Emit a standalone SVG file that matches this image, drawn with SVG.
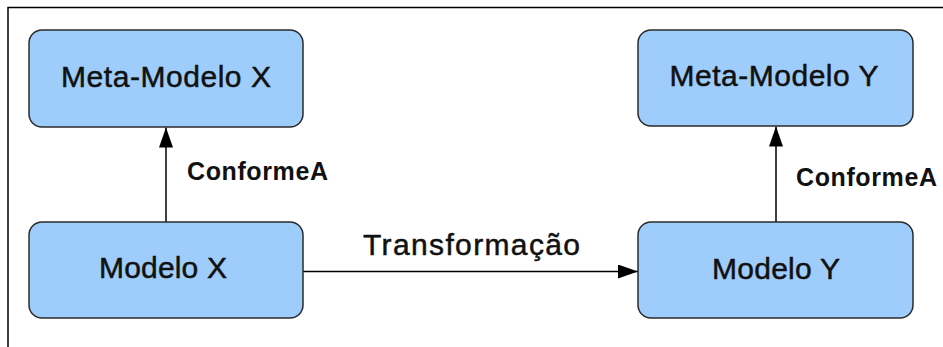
<svg xmlns="http://www.w3.org/2000/svg" width="943" height="347" viewBox="0 0 943 347">
  <style>
    .node rect { fill: #9fcdfb; stroke: #2b2b2b; stroke-width: 1.5; }
    .node text { font-family: "Liberation Sans", Arial, sans-serif; font-size: 30px; fill: #111; stroke: #111; stroke-width: 0.5; text-anchor: middle; }
    .edge { stroke: #000; stroke-width: 1.5; fill: none; }
    .elabel { font-family: "Liberation Sans", Arial, sans-serif; font-weight: bold; font-size: 25px; fill: #111; }
    .tlabel { font-family: "Liberation Sans", Arial, sans-serif; font-size: 30px; fill: #111; stroke: #111; stroke-width: 0.5; }
  </style>
  <defs>
    <marker id="arrow" viewBox="0 0 20 14" refX="20" refY="7" markerWidth="20" markerHeight="14" markerUnits="userSpaceOnUse" orient="auto">
      <path d="M0,0 L20,7 L0,14 Z" fill="#000"/>
    </marker>
  </defs>
  <rect width="943" height="347" fill="#fff"/>
  <!-- window frame -->
  <path d="M8,347 V7.5 H943" fill="none" stroke="#000" stroke-width="1.5"/>

  <g id="connectors">
    <line class="edge" x1="166" y1="222" x2="166" y2="127.5" marker-end="url(#arrow)"/>
    <text class="elabel" x="187" y="180" textLength="141" lengthAdjust="spacing">ConformeA</text>
    <line class="edge" x1="776" y1="222" x2="776" y2="126.5" marker-end="url(#arrow)"/>
    <text class="elabel" x="796" y="186" textLength="141" lengthAdjust="spacing">ConformeA</text>
    <line class="edge" x1="303" y1="271.5" x2="638" y2="271.5" marker-end="url(#arrow)"/>
    <text class="tlabel" x="363" y="255" textLength="217" lengthAdjust="spacing">Transformação</text>
  </g>

  <g id="meta-modelo-x" class="node">
    <rect x="29" y="30" width="274" height="97" rx="13"/>
    <text x="166" y="87" textLength="210" lengthAdjust="spacing">Meta-Modelo X</text>
  </g>
  <g id="modelo-x" class="node">
    <rect x="29" y="222" width="274" height="96" rx="13"/>
    <text x="163" y="278" textLength="128" lengthAdjust="spacing">Modelo X</text>
  </g>
  <g id="meta-modelo-y" class="node">
    <rect x="638" y="30" width="275" height="96" rx="13"/>
    <text x="774" y="86" textLength="209" lengthAdjust="spacing">Meta-Modelo Y</text>
  </g>
  <g id="modelo-y" class="node">
    <rect x="638" y="222" width="275" height="96" rx="13"/>
    <text x="776" y="279" textLength="128" lengthAdjust="spacing">Modelo Y</text>
  </g>
</svg>
